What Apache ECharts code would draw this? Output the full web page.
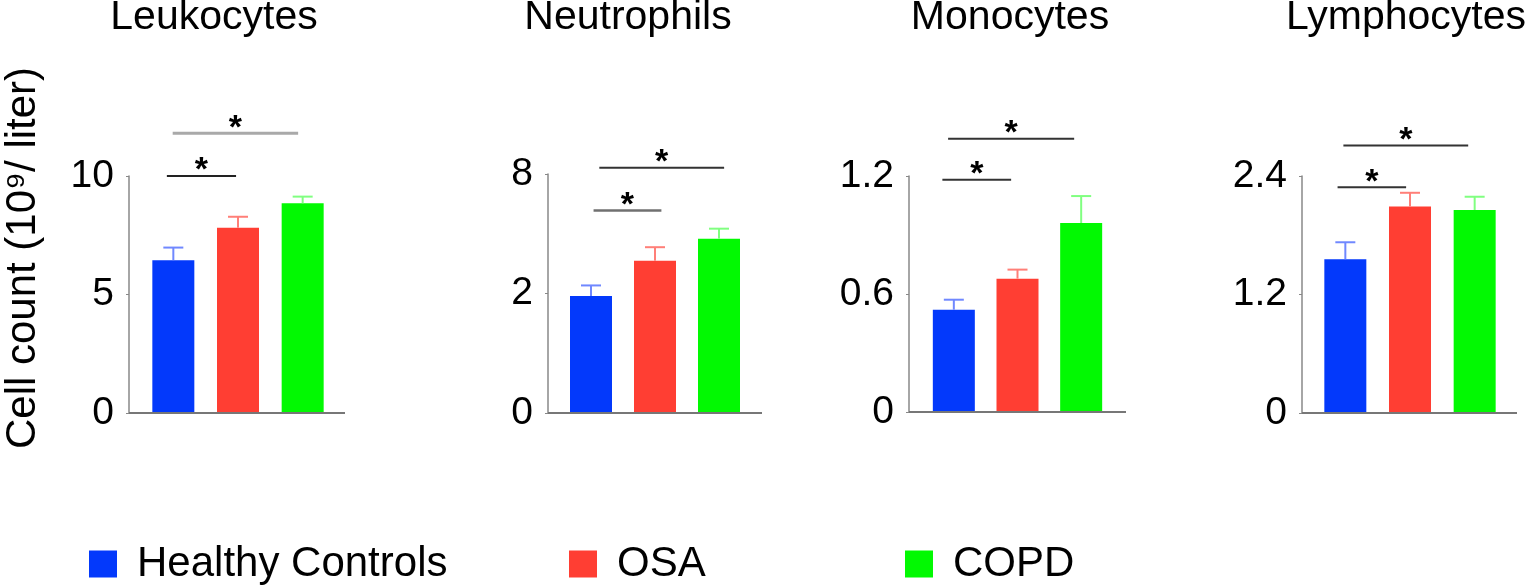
<!DOCTYPE html>
<html>
<head>
<meta charset="utf-8">
<script src="https://cdn.jsdelivr.net/npm/echarts@6/dist/echarts.min.js"></script>
<style>
html, body { margin: 0; padding: 0; background: #fff; }
#chart { width: 1535px; height: 586px; }
</style>
</head>
<body>
<div id="chart"></div>
<script>
var groups = ['Healthy Controls', 'OSA', 'COPD'];
var panels = ['Leukocytes', 'Neutrophils', 'Monocytes', 'Lymphocytes'];

// mean and SEM, in the units of each panel's axis
var leukoMean = [6.45, 7.82, 8.85];
var leukoErr = [0.53, 0.46, 0.28];
var neutroMean = [3.92, 5.1, 5.83];
var neutroErr = [0.35, 0.45, 0.34];
var monoMean = [0.52, 0.678, 0.961];
var monoErr = [0.051, 0.046, 0.137];
var lymphoMean = [1.557, 2.09, 2.056];
var lymphoErr = [0.172, 0.14, 0.134];

// tick labels as printed (neutrophil axis is labelled 0 / 2 / 8)
var leukoTicks = ['0', '5', '10'];
var neutroTicks = ['0', '2', '8'];
var monoTicks = ['0', '0.6', '1.2'];
var lymphoTicks = ['0', '1.2', '2.4'];
var axisMax = [10, 8, 1.2, 2.4];

// significance brackets: [from category, to category, height]
var leukoSig = [[-0.1, 0.97, 10.0], [-0.01, 1.93, 11.8]];
var neutroSig = [[0.04, 1.1, 6.78], [0.13, 2.08, 8.21]];
var monoSig = [[-0.18, 0.9, 1.181], [-0.09, 1.89, 1.39]];
var lymphoSig = [[-0.12, 0.94, 2.285], [-0.03, 1.9, 2.71]];

var means = [leukoMean, neutroMean, monoMean, lymphoMean];
var errs = [leukoErr, neutroErr, monoErr, lymphoErr];
var ticks = [leukoTicks, neutroTicks, monoTicks, lymphoTicks];
var sigs = [leukoSig, neutroSig, monoSig, lymphoSig];

var font = "'Liberation Sans', Arial, Helvetica, sans-serif";
var barColors = ['#0339fb', '#ff3e33', '#02f902'];
var errColors = ['#7088ff', '#ff7f78', '#80ff80'];
var sigColors = [['#222', '#a9a9a9'], ['#707070', '#333'], ['#333', '#333'], ['#333', '#333']];
var sigWidths = [[2, 3], [2.5, 2], [2, 2], [2, 2]];

var layout = [
  { axisX: 129, left: 141, width: 194, top: 176, bottom: 413, end: 345, labelPad: 22, title: 214 },
  { axisX: 548, left: 559, width: 192, top: 174, bottom: 413, end: 762, labelPad: 6, title: 628 },
  { axisX: 909, left: 922, width: 191, top: 176, bottom: 412, end: 1126, labelPad: 6, title: 1010 },
  { axisX: 1302, left: 1313, width: 194, top: 176, bottom: 413, end: 1517, labelPad: 0, title: 1406 }
];
var legendLeft = [84, 564, 900];

var grids = [], xAxes = [], yAxes = [], series = [], titles = [];

layout.forEach(function (L, p) {
  grids.push({ left: L.left, width: L.width, top: L.top, height: L.bottom - L.top });
  titles.push({
    text: panels[p], left: L.title, top: -3, textAlign: 'center', padding: 0,
    textStyle: { fontSize: 41, fontWeight: 'normal', color: '#000', fontFamily: font }
  });
  xAxes.push({
    gridIndex: p, type: 'category', data: groups,
    axisLine: { show: false }, axisTick: { show: false }, axisLabel: { show: false }
  });
  yAxes.push({
    gridIndex: p, type: 'value', min: 0, max: axisMax[p], interval: axisMax[p] / 2,
    offset: L.left - L.axisX,
    axisLine: { show: true, lineStyle: { color: '#888', width: 1.5 } },
    axisTick: { show: true, length: 3, lineStyle: { color: '#888' } },
    splitLine: { show: false },
    axisLabel: {
      fontSize: 39, color: '#000', fontFamily: font, margin: 15,
      padding: [0, 0, L.labelPad, 0],
      formatter: function (v, idx) { return ticks[p][idx]; }
    }
  });

  groups.forEach(function (g, gi) {
    series.push({
      type: 'bar', name: g, xAxisIndex: p, yAxisIndex: p,
      data: means[p].map(function (m, i) { return i === gi ? m : '-'; }),
      barWidth: 42, barGap: '-100%',
      itemStyle: { color: barColors[gi] },
      z: 2
    });
  });

  // error bars (upper half only)
  series.push({
    type: 'custom', xAxisIndex: p, yAxisIndex: p, z: 3,
    data: means[p].map(function (m, i) { return [i, m, errs[p][i]]; }),
    renderItem: function (params, api) {
      var i = params.dataIndex, m = api.value(1), e = api.value(2);
      var a = api.coord([i, m]), b = api.coord([i, m + e]);
      var st = { stroke: errColors[i], lineWidth: 2 };
      return {
        type: 'group', children: [
          { type: 'line', shape: { x1: a[0], y1: a[1], x2: b[0], y2: b[1] }, style: st },
          { type: 'line', shape: { x1: b[0] - 10, y1: b[1], x2: b[0] + 10, y2: b[1] }, style: st }
        ]
      };
    }
  });

  // significance brackets with asterisks
  series.push({
    type: 'custom', xAxisIndex: p, yAxisIndex: p, z: 3,
    data: sigs[p].map(function (s) { return [0, s[2], s[0], s[1]]; }),
    renderItem: function (params, api) {
      var k = params.dataIndex;
      var y = api.value(1), from = api.value(2), to = api.value(3);
      var p0 = api.coord([0, y]);
      var band = api.size([1, 0])[0];
      var x1 = p0[0] + from * band, x2 = p0[0] + to * band;
      return {
        type: 'group', children: [
          { type: 'line', shape: { x1: x1, y1: p0[1], x2: x2, y2: p0[1] },
            style: { stroke: sigColors[p][k], lineWidth: sigWidths[p][k] } },
          { type: 'text', x: (x1 + x2) / 2, y: p0[1] - 5,
            style: { text: '*', fontSize: 34, fontWeight: 'bold', fontFamily: font, fill: '#000',
                     textAlign: 'center', textVerticalAlign: 'middle', align: 'center', verticalAlign: 'middle' } }
        ]
      };
    }
  });

  // baseline running from the y axis to the right end
  series.push({
    type: 'custom', xAxisIndex: p, yAxisIndex: p, z: 4,
    data: [[0, 0]],
    renderItem: function (params, api) {
      var y0 = api.coord([0, 0])[1];
      return { type: 'line', shape: { x1: L.axisX, y1: y0, x2: L.end, y2: y0 },
               style: { stroke: '#777', lineWidth: 2 } };
    }
  });
});

var chart = echarts.init(document.getElementById('chart'));
chart.setOption({
  animation: false,
  backgroundColor: '#fff',
  title: titles,
  grid: grids,
  xAxis: xAxes,
  yAxis: yAxes,
  legend: groups.map(function (g, i) {
    return {
      data: [g], left: legendLeft[i], top: 538, icon: 'rect',
      itemWidth: 28, itemHeight: 27,
      textStyle: { fontSize: 42, color: '#000', fontFamily: font, padding: [0, 0, 0, 15] }
    };
  }),
  graphic: [{
    type: 'text', x: 23, y: 258, rotation: Math.PI / 2,
    style: { text: 'Cell count (10\u2079/ liter)', fontSize: 42, fontFamily: font, fill: '#000',
             textAlign: 'center', textVerticalAlign: 'middle', align: 'center', verticalAlign: 'middle' }
  }],
  series: series
});
</script>
</body>
</html>
